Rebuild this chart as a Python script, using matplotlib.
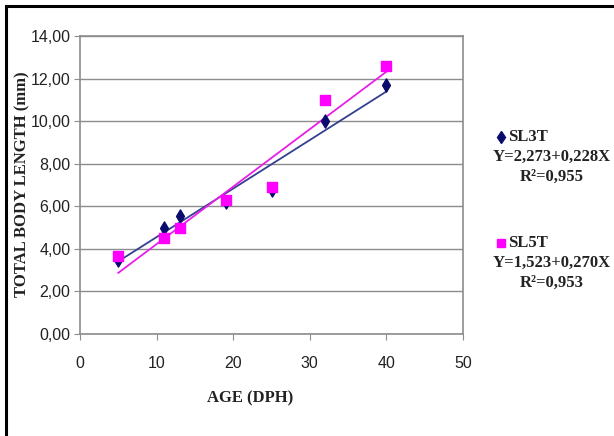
import matplotlib
matplotlib.use("Agg")
import matplotlib.pyplot as plt
import numpy as np
from matplotlib.patches import Rectangle

# data
age_dph = [5, 11, 13, 19, 25, 32, 40]
sl3t_length = [3.50, 5.00, 5.55, 6.20, 6.75, 10.00, 11.70]
sl5t_length = [3.65, 4.50, 5.00, 6.30, 6.90, 11.00, 12.60]

# regression coefficients printed in the legend (intercept, slope, r2)
sl3t_fit = (2.273, 0.228, 0.955)
sl5t_fit = (1.523, 0.270, 0.953)

x_ticks = [0, 10, 20, 30, 40, 50]
y_ticks = [0, 2, 4, 6, 8, 10, 12, 14]

NAVY = "#0b0b6e"
MAGENTA = "#ff00ff"
BLUE_LINE = "#333f8f"
PINK_LINE = "#e81ee8"


def comma(v: float, decimals: int = 2) -> str:
    return f"{v:.{decimals}f}".replace(".", ",")


fig = plt.figure(figsize=(6.14, 4.36), dpi=100)
W, H = 614, 436
ax = fig.add_axes([80 / W, 1 - 334 / H, (463 - 80) / W, (334 - 36) / H])

# outer frame (top and left visible)
fig.patches.append(Rectangle((6 / W, -0.05), 1.2, 1 - 6 / H + 0.05,
                             transform=fig.transFigure, fill=False,
                             edgecolor="black", linewidth=2.2))

ax.set_xlim(0, 50)
ax.set_ylim(0, 14)
ax.set_xticks(x_ticks)
ax.set_yticks(y_ticks)
ax.set_xticklabels([str(t) for t in x_ticks])
ax.set_yticklabels([comma(t) for t in y_ticks])
ax.grid(axis="y", color="#8c8c8c", linewidth=1.0)
ax.set_axisbelow(True)
for s in ax.spines.values():
    s.set_color("#8c8c8c")
    s.set_linewidth(1.2)
ax.tick_params(axis="both", direction="out", length=4, color="#8c8c8c",
               labelsize=11.5, pad=3)
ax.tick_params(axis="x", pad=12)
for lab in ax.get_xticklabels() + ax.get_yticklabels():
    lab.set_family("Liberation Sans")
    lab.set_color("#222222")

# regression lines over the measured range
xs = np.array([min(age_dph), max(age_dph)])
ax.plot(xs, sl3t_fit[0] + sl3t_fit[1] * xs, color=BLUE_LINE, linewidth=1.3, zorder=2)
ax.plot(xs, sl5t_fit[0] + sl5t_fit[1] * xs, color=PINK_LINE, linewidth=1.3, zorder=2)

ax.scatter(age_dph, sl3t_length, marker="d", s=45, color=NAVY, zorder=3)
ax.scatter(age_dph, sl5t_length, marker="s", s=45, color=MAGENTA, zorder=4)

serif = dict(family="Liberation Serif", fontweight="bold", color="#222222")
ax.set_xlabel("AGE (DPH)", fontsize=12, **serif)
ax.xaxis.set_label_coords((250 - 80) / (463 - 80), -(398 - 334) / (334 - 36))
ax.set_ylabel("TOTAL BODY LENGTH (mm)", fontsize=12, **serif)
ax.yaxis.set_label_coords(-(80 - 22) / (463 - 80), (334 - 184) / (334 - 36))
ax.xaxis.label.set_va("center")
ax.yaxis.label.set_va("center")

# legend blocks on the right
def legend_block(y0, marker, color, name, fit):
    fig.text(508 / W, 1 - y0 / H, name, fontsize=12, ha="left", va="center", **serif)
    fig.lines.append(plt.Line2D([501 / W], [1 - y0 / H], marker=marker, color=color,
                                markersize=6, linestyle="none",
                                transform=fig.transFigure))
    fig.text(552 / W, 1 - (y0 + 20) / H,
             f"Y={comma(fit[0], 3)}+{comma(fit[1], 3)}X",
             fontsize=12, ha="center", va="center", **serif)
    fig.text(552 / W, 1 - (y0 + 40) / H, f"R²={comma(fit[2], 3)}",
             fontsize=12, ha="center", va="center", **serif)


legend_block(137, "d", NAVY, "SL3T", sl3t_fit)
legend_block(243, "s", MAGENTA, "SL5T", sl5t_fit)

fig.savefig("out.png", dpi=100)
